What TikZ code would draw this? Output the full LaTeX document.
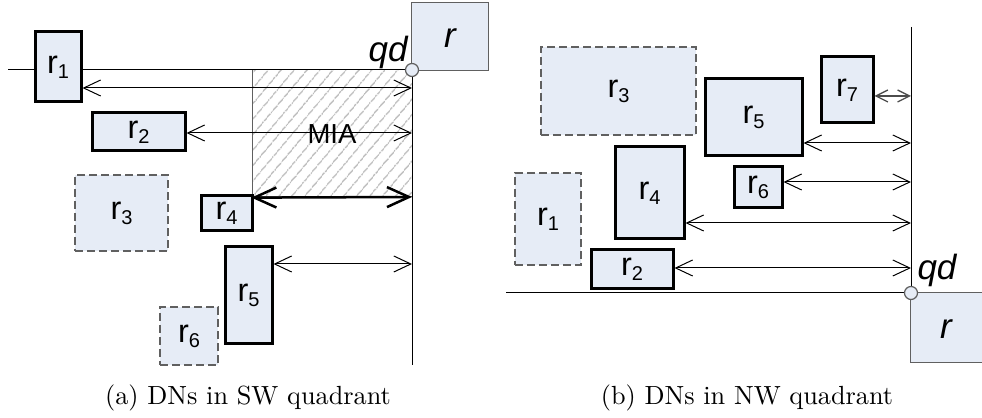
\documentclass[tikz,border=0pt]{standalone}
\usepackage{fontspec}
\newfontfamily\arial{Liberation Sans}
\usetikzlibrary{arrows.meta,fit,patterns.meta}
\definecolor{boxfill}{HTML}{E6ECF6}
\definecolor{edgegray}{HTML}{606060}
\newcommand\rsub[2]{r\raisebox{-2pt}{\fontsize{8}{8}\selectfont #2}}
\begin{document}
\begin{tikzpicture}[x=0.4pt,y=-0.4pt,
  box/.style={draw=black, line width=1.2pt, fill=boxfill, inner sep=0pt, font=\arial\fontsize{13}{13}\selectfont},
  dbox/.style={draw=edgegray, line width=0.5pt, dash pattern=on 3.2pt off 1.6pt, fill=boxfill, inner sep=0pt, font=\arial\fontsize{13}{13}\selectfont},
  rbox/.style={fill=boxfill, inner sep=0pt},
  rlab/.style={font=\arial\itshape\fontsize{14}{14}\selectfont, inner sep=0pt},
  rline/.style={draw=edgegray, line width=0.5pt},
  axis/.style={draw=black, line width=0.4pt},
  dim/.style={line width=0.4pt, {Straight Barb[length=6.8pt,width=6.4pt]}-{Straight Barb[length=6.8pt,width=6.4pt]}},
  dimthick/.style={line width=1pt, {Straight Barb[length=8.8pt,width=8pt]}-{Straight Barb[length=8.8pt,width=8pt]}},
  dimsmall/.style={line width=0.5pt, draw=black!70, {Straight Barb[length=4.8pt,width=4.8pt]}-{Straight Barb[length=4.8pt,width=4.8pt]}},
  qdot/.style={circle, draw=edgegray, line width=0.5pt, fill=boxfill, minimum size=5.2pt, inner sep=0pt},
  qdlab/.style={font=\arial\itshape\fontsize{14}{14}\selectfont, inner sep=0pt},
  captext/.style={font=\fontsize{10.5}{12}\selectfont, inner sep=0pt},
  lab/.style={font=\arial\fontsize{13}{13}\selectfont}]
\useasboundingbox (0,0) rectangle (982,418);

% ================= (a) =================
% MIA hatched region
\node[fit={(252,70) (412,197)}, inner sep=0pt, draw=edgegray, line width=0.4pt,
  pattern={Lines[angle=50,distance=4pt,line width=0.5pt]}, pattern color=gray!55] (mia) {};
\node[font=\arial\fontsize{11}{11}\selectfont, inner sep=0pt] (mialab) at (332,134) {MIA};

\coordinate (qa) at (412,70);
\coordinate (la) at (8,70);
\coordinate (ba) at (412,365);
\draw[axis] (la) -- (qa);
\draw[axis] (qa) -- (ba);

% r box (a)
\node[rbox, fit={(412,3) (488,70)}] (ra) {};
\node[rlab] (ralab) at (450,38) {r};
\draw[rline] (ra.south west) rectangle (ra.north east);

\node[box, fit={(35,32) (81,102)}, label={[lab]center:\rsub r1}] (a1) {};
\node[box, fit={(92,113) (185,151)}, label={[lab]center:\rsub r2}] (a2) {};
\node[dbox, fit={(75,175) (168,251)}, label={[lab]center:\rsub r3}] (a3) {};
\node[box, fit={(201,196) (252,231)}, label={[lab]center:\rsub r4}] (a4) {};
\node[box, fit={(225,247) (272,344)}, label={[lab]center:\rsub r5}] (a5) {};
\node[dbox, fit={(160,307) (218,365)}, label={[lab]center:\rsub r6}] (a6) {};

\coordinate (e1) at (412,88);
\coordinate (e2) at (412,133);
\coordinate (e4) at (412,197);
\coordinate (e5) at (412,264);
\draw[dim] (e1 -| a1.east) -- (e1);
\draw[dim] (e2 -| a2.east) -- (e2);
\draw[dimthick] (mia.south west) -- (e4);
\draw[dim] (e5 -| a5.east) -- (e5);

\node[qdot] (qda) at (qa) {};
\node[qdlab, anchor=base east] (qdal) at (408,62) {qd};

\node[captext] (capa) at (248,398) {(a) DNs in SW quadrant};

% ================= (b) =================
\coordinate (qb) at (911,293);
\coordinate (tb) at (911,27);
\coordinate (lb) at (506,293);
\draw[axis] (tb) -- (qb);
\draw[axis] (lb) -- (qb);

\node[rbox, fit={(911,293) (982,362)}] (rb) {};
\node[rlab] (rblab) at (946,329) {r};
\draw[rline] (rb.east |- rb.north) -- (rb.north west) -- (rb.south west) -- (rb.south east);

\node[dbox, fit={(541,47) (696,135)}, label={[lab]center:\rsub r3}] (b3) {};
\node[box, fit={(705,79) (802,156)}, label={[lab]center:\rsub r5}] (b5) {};
\node[box, fit={(821,57) (873,123)}, label={[lab]center:\rsub r7}] (b7) {};
\node[box, fit={(734,167) (782,208)}, label={[lab]center:\rsub r6}] (b6) {};
\node[box, fit={(615,147) (684,239)}, label={[lab]center:\rsub r4}] (b4) {};
\node[dbox, fit={(515,173) (581,265)}, label={[lab]center:\rsub r1}] (b1) {};
\node[box, fit={(591,250) (673,289)}, label={[lab]center:\rsub r2}] (b2) {};

\coordinate (f7) at (911,96);
\coordinate (f5) at (911,143);
\coordinate (f6) at (911,182);
\coordinate (f4) at (911,223);
\coordinate (f2) at (911,268);
\draw[dimsmall] (f7 -| b7.east) -- (f7);
\draw[dim] (f5 -| b5.east) -- (f5);
\draw[dim] (f6 -| b6.east) -- (f6);
\draw[dim] (f4 -| b4.east) -- (f4);
\draw[dim] (f2 -| b2.east) -- (f2);

\node[qdot] (qdb) at (qb) {};
\node[qdlab, anchor=base west] (qdbl) at (917,280) {qd};

\node[captext] (capb) at (747,398) {(b) DNs in NW quadrant};
\end{tikzpicture}
\end{document}
